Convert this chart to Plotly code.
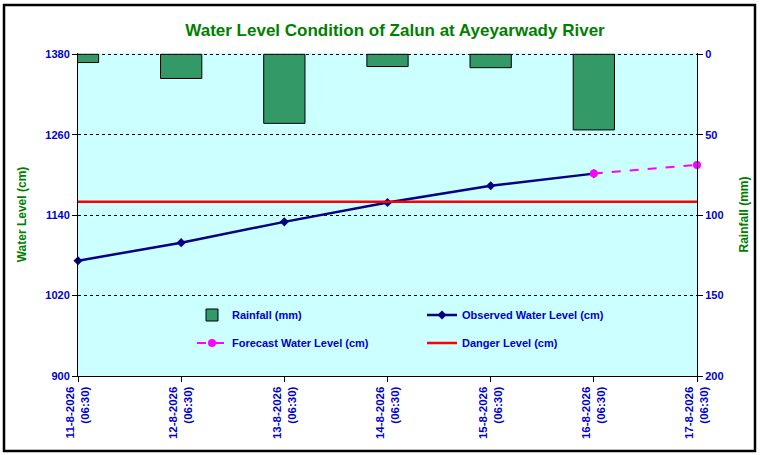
import plotly.graph_objects as go

categories = ["11-8-2026<br>(06:30)", "12-8-2026<br>(06:30)", "13-8-2026<br>(06:30)",
              "14-8-2026<br>(06:30)", "15-8-2026<br>(06:30)", "16-8-2026<br>(06:30)",
              "17-8-2026<br>(06:30)"]
rainfall_mm = [5.1, 15.0, 42.9, 7.6, 8.3, 47.0]
observed_cm = [1072, 1099, 1130, 1159, 1184, 1202]
forecast_cats = categories[5:7]
forecast_cm = [1202, 1215]
danger_cm = 1160
left_ticks = [900, 1020, 1140, 1260, 1380]
right_ticks = [0, 50, 100, 150, 200]

BLUE = "#0000CC"
GREEN = "#008000"
FONT = "Liberation Sans, Arial, sans-serif"

W, H = 764, 455
L, R, T, B = 78, 67, 53, 79
pw, ph = W - L - R, H - T - B

def px_x(p):
    return (p - L) / pw

def px_y(p):
    return (H - B - p) / ph

# tiny headroom so the dotted 1380 gridline is drawn at the top edge
y_lo, y_hi = 900, 1382
y2_top = -(200 * (y_hi - 1380)) / (y_hi - y_lo - (y_hi - 1380))

fig = go.Figure()
fig.add_trace(go.Bar(
    x=categories[:len(rainfall_mm)], y=rainfall_mm, name="Rainfall (mm)", yaxis="y2",
    marker=dict(color="#339966", line=dict(color="black", width=1)), width=0.4,
    legend="legend"))
fig.add_trace(go.Scatter(
    x=categories[:len(observed_cm)], y=observed_cm, name="Observed Water Level (cm)",
    mode="lines+markers", line=dict(color="#000080", width=2.5),
    marker=dict(symbol="diamond", size=7, color="#000080"), cliponaxis=False,
    legend="legend"))
fig.add_trace(go.Scatter(
    x=forecast_cats, y=forecast_cm, name="Forecast Water Level (cm)",
    mode="lines+markers", line=dict(color="#FF00FF", width=2, dash="dash"),
    marker=dict(symbol="circle", size=8, color="#FF00FF"), cliponaxis=False,
    legend="legend2"))
fig.add_trace(go.Scatter(
    x=categories, y=[danger_cm] * len(categories), name="Danger Level (cm)",
    mode="lines", line=dict(color="#FF0000", width=2.5), legend="legend2"))

legend_common = dict(orientation="h", xanchor="left", yanchor="middle",
                     entrywidth=185, entrywidthmode="pixels",
                     bgcolor="rgba(0,0,0,0)",
                     font=dict(family=FONT, size=11, color=BLUE, weight="bold"))

fig.update_layout(
    width=W, height=H,
    margin=dict(l=L, r=R, t=T, b=B),
    paper_bgcolor="white", plot_bgcolor="#CCFFFF",
    title=dict(text="<b>Water Level Condition of Zalun at Ayeyarwady River</b>",
               x=px_x(395), xref="paper", y=1 - 30 / H, yanchor="middle",
               font=dict(family=FONT, size=17, color=GREEN)),
    showlegend=True,
    legend=dict(x=px_x(192), y=px_y(315), **legend_common),
    legend2=dict(x=px_x(192), y=px_y(343), **legend_common),
    xaxis=dict(type="category", categoryorder="array", categoryarray=categories,
               range=[0, 6], showgrid=False, showline=True, linecolor="black", linewidth=1,
               ticks="outside", ticklen=5, tickcolor="black", tickangle=-90,
               tickfont=dict(family=FONT, size=11.5, color=BLUE, weight="bold")),
    yaxis=dict(range=[y_lo, y_hi], tickvals=left_ticks, showgrid=True, gridcolor="black",
               griddash="dot", gridwidth=1, showline=True, linecolor="black", linewidth=1,
               ticks="outside", ticklen=5, tickcolor="black", zeroline=False,
               tickfont=dict(family=FONT, size=11, color=BLUE, weight="bold"),
               title=dict(text="<b>Water Level (cm)</b>", standoff=16,
                          font=dict(family=FONT, size=12, color=GREEN))),
    yaxis2=dict(range=[200, y2_top], tickvals=right_ticks, overlaying="y", side="right",
                showgrid=False, showline=True, linecolor="black", linewidth=1,
                ticks="outside", ticklen=5, tickcolor="black", zeroline=False,
                tickfont=dict(family=FONT, size=11, color=BLUE, weight="bold"),
                title=dict(text="<b>Rainfall (mm)</b>", standoff=17,
                           font=dict(family=FONT, size=12, color=GREEN))),
    shapes=[dict(type="rect", xref="paper", yref="paper",
                 x0=px_x(4), x1=px_x(755), y0=px_y(451), y1=px_y(5),
                 line=dict(color="black", width=2.5), fillcolor="rgba(0,0,0,0)")],
)

fig.write_html("out.html", config={"displayModeBar": False},
               post_script="document.body.style.margin='0';document.body.style.overflow='hidden';")
